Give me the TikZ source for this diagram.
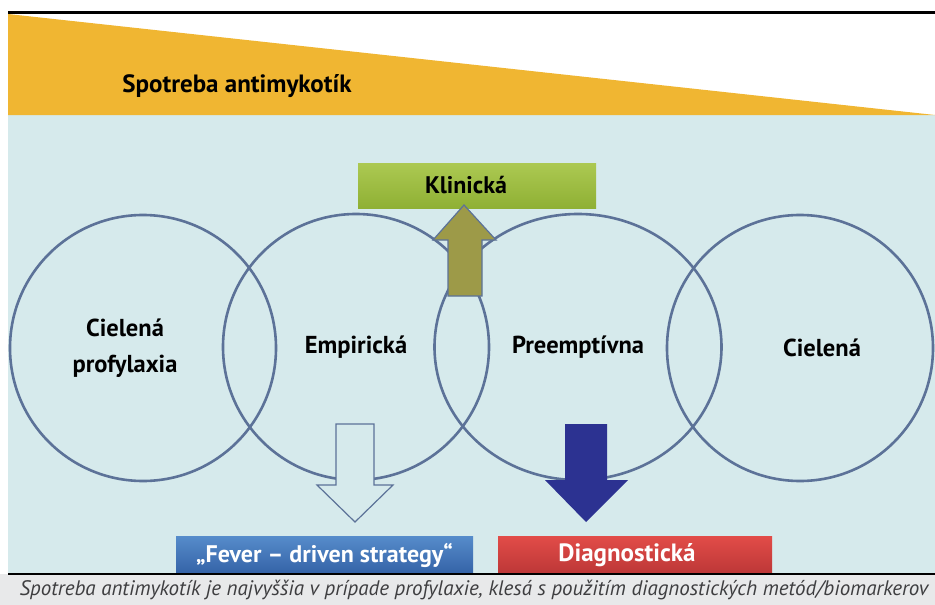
\documentclass[tikz,border=0pt]{standalone}
\usepackage{fontspec}
\setmainfont{PT Sans}
\usetikzlibrary{shapes.geometric}

\definecolor{bgblue}{RGB}{214,234,236}
\definecolor{amber}{RGB}{240,182,50}
\definecolor{ringline}{RGB}{92,114,152}
\definecolor{olive}{RGB}{157,154,72}
\definecolor{navy}{RGB}{44,50,145}
\definecolor{capgray}{RGB}{232,233,234}
\definecolor{captext}{RGB}{62,62,64}

\begin{document}
\begin{tikzpicture}[x=1pt, y=-1pt, semithick,
	ring/.style ={circle, draw=ringline, line width=2.6pt, minimum size=266pt, inner sep=0pt,
		align=center, font=\fontsize{24.5}{36}\selectfont\bfseries},
	tag/.style ={minimum height=38pt, inner sep=0pt, text=white, font=\fontsize{24}{28}\selectfont\bfseries},
	blockarrow/.style ={draw=ringline, line width=1.2pt, line join=miter}]
	% frame and background
	\useasboundingbox (0,0) rectangle (935,605);
	\fill[bgblue] (8,115) rectangle (935,574);
	\fill[amber] (8,14) -- (935,115) -- (8,115) -- cycle;
	\draw[line width=3pt] (8,12) -- (935,12);
	\node[font=\fontsize{25}{30}\selectfont\bfseries] (usage) at (237,86) {Spotreba antimykotík};

	% strategies
	\node[ring] (prof) at (143,348) {\hspace*{-36pt}Cielená\\\hspace*{-36pt}profylaxia};
	\node[ring] (emp) at (356,347) {Empirická};
	\node[ring, ellipse, minimum width=287pt, minimum height=266pt] (pre) at (578,347) {Preemptívna};
	\node[ring] (cil) at (800,348) {\hspace*{44pt}Cielená};

	% outcomes
	\node[tag, text=black, minimum width=238pt, minimum height=45pt,
		top color={rgb,255:red,172;green,201;blue,82}, bottom color={rgb,255:red,143;green,176;blue,52}]
		(klin) at (477,185.5) {\hspace*{-22pt}Klinická};
	\node[tag, minimum width=297pt, top color={rgb,255:red,86;green,140;blue,203},
		bottom color={rgb,255:red,52;green,98;blue,166}] (fever) at (324.5,555) {„Fever – driven strategy“};
	\node[tag, font=\fontsize{25}{28}\selectfont\bfseries, minimum width=274pt, top color={rgb,255:red,226;green,76;blue,72},
		bottom color={rgb,255:red,188;green,55;blue,55}] (diag) at (635,555) {\hspace*{-16pt}Diagnostická};

	% arrows
	\draw[blockarrow, fill=olive] (448,296) -- (448,240) -- (433,240) -- (464,205) -- (496,240)
		-- (482,240) -- (482,296) -- cycle;
	\draw[blockarrow, fill=bgblue] (336,424) -- (374,424) -- (374,485) -- (393,485) -- (355,522)
		-- (317,485) -- (336,485) -- cycle;
	\fill[navy] (565,424) -- (607,424) -- (607,480) -- (628,480) -- (586,522)
		-- (545,480) -- (565,480) -- cycle;

	% caption
	\fill[capgray] (0,574) rectangle (935,605);
	\draw[line width=1.5pt] (8,574) -- (935,574);
	\node[anchor=west, text=captext, font=\fontsize{21}{24}\selectfont\itshape] (note) at (16,590)
		{Spotreba antimykotík je najvyššia v prípade profylaxie, klesá s použitím diagnostických metód/biomarkerov};
\end{tikzpicture}
\end{document}
